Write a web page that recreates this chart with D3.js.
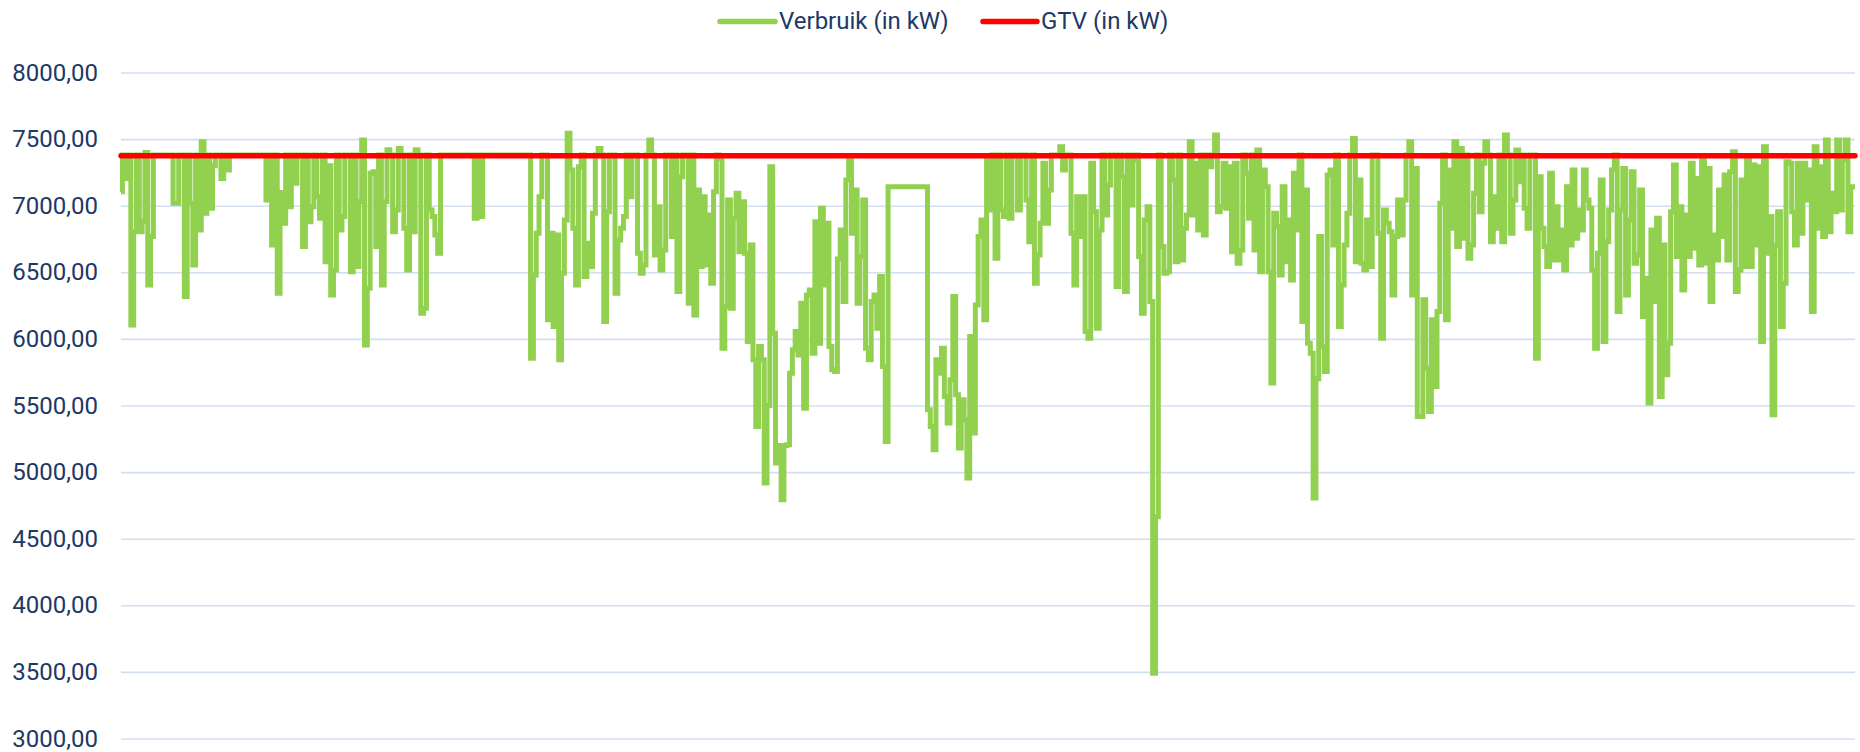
<!DOCTYPE html>
<html>
<head>
<meta charset="utf-8">
<script src="https://cdn.jsdelivr.net/npm/d3@7"></script>
<style>
  body { margin: 0; background: #fff; }
  text { font-family: Roboto, "Noto Sans", sans-serif; }
</style>
</head>
<body>
<div id="chart"></div>
<script>
// y-as ticks
var yTicks = [3000, 3500, 4000, 4500, 5000, 5500, 6000, 6500, 7000, 7500, 8000];

// legenda
var seriesNames = ["Verbruik (in kW)", "GTV (in kW)"];

// gecontracteerd transportvermogen
var gtvKW = 7375;

// verbruik (in kW), eerste helft
var verbruikDeel1 = [
  7105, 7380, 7205, 7380, 6105, 6805, 7380, 6805, 6880, 7400, 6405, 6768,
  7380, 7380, 7380, 7380, 7380, 7380, 7380,
  7018, 7018, 7380, 7380, 6318, 7380, 7018, 6555, 7380, 6818, 7480, 6943, 7380, 6980, 7300, 7380, 7380, 7205, 7380, 7268, 7380,
  7380, 7380, 7380, 7380, 7380, 7380, 7380, 7380, 7380, 7380, 7380, 7380,
  7043, 7380, 6705, 7380, 6343, 7100, 6868, 7380, 6993, 7380, 7168, 7380, 7380, 6693, 7380, 6880, 6993, 7380, 7068, 6905,
  7380, 6580, 7300, 6330, 6518, 7380, 6818, 6918, 7380, 7380, 6505, 7380, 6543, 7030, 7493, 5955, 6380, 7243, 7255, 6693,
  7380, 6405, 7030, 7420, 7380, 6805, 6968, 7430, 7380, 6830, 6518, 7380, 6805, 7420, 7380, 6193, 6230, 7380, 6968, 6918,
  6780, 6643, 7380, 7380,
  7380, 7380, 7380, 7380, 7380, 7380, 7380, 7380, 7380, 7380,
  6905, 7380, 6918, 7380, 7380, 7380,
  7380, 7380, 7380, 7380, 7380, 7380, 7380, 7380, 7380, 7380, 7380, 7380, 7380,
  7380, 5855, 6480, 6793, 7068, 7380, 7380, 6143, 6793, 6093, 6780, 5843, 6493, 6893, 7543, 7268, 6830, 6405, 7293, 7380,
  6468, 6718, 6543, 6943, 7380, 7430, 7380, 6130, 6955, 7380, 7380, 6343, 6743, 6830, 6918, 7380, 7068, 7380, 7380, 6643,
  6493, 6555, 7380, 7493, 7380, 6630, 6993, 6518, 6668, 7380, 7380, 6768, 7380, 6355, 7218, 7380, 7380, 6268, 7380, 6180,
  7118, 6543, 7068, 6555, 6930, 6418, 7105, 7380, 7355, 5930, 6243, 7043, 6230, 6905, 7093, 6655, 7030, 6643, 5980, 6705,
  5843, 5343, 5943, 5843, 4918, 5500, 7293, 6043, 5068, 5200, 4793, 5200, 5205, 5743, 5918, 6055, 5880, 6268, 5480, 6330,
  6368, 5893, 6880, 5968, 6980, 6405, 6868, 5943, 5768, 5755, 6600, 6818, 6280, 7193, 7343, 6793, 7118, 6268, 6618, 7043,
  5930, 5843, 6280, 6330, 6080, 6468, 5793, 5230,
  7143, 7143, 7143, 7143, 7143, 7143, 7143, 7143, 7143, 7143, 7143, 7143, 7143, 7143,
  5468, 5343, 5168, 5843, 5743, 5930, 5568, 5368, 5693, 6318, 5580, 5180, 5543, 5393, 4955, 6018, 5293, 6255, 6768, 6893,
  6143, 7343
];

// verbruik (in kW), tweede helft
var verbruikDeel2 = [
  6968, 7380, 6605, 7380, 6968, 6918, 7380, 6905, 7380, 7380, 6968, 7380, 7380, 7043, 6730, 7380, 6418, 6630, 6868, 7318,
  6868, 7118, 7380, 7380, 7380, 7443, 7268, 7380, 7380, 6793, 6405, 7068, 6768, 7068, 6055, 6005, 7318, 6955, 6080, 6818,
  7380, 6930, 7155, 7380, 7380, 6393, 7380, 7218, 6355, 7380, 7005, 7343, 7380, 6618, 6193, 6893, 6993, 6280, 3490, 4665,
  7380, 6693, 6493, 6505, 7380, 7193, 6580, 7380, 6593, 6830, 6930, 7480, 6930, 7318, 6818, 7380, 6780, 7380, 7293, 7380,
  7530, 6955, 6993, 7318, 6980, 7293, 6655, 7318, 6568, 6668, 7380, 7243, 6905, 7380, 6668, 7418, 6505, 7268, 7143, 6505,
  5668, 6943, 6843, 6480, 7143, 6580, 6893, 6443, 7243, 6818, 7380, 6130, 7118, 5968, 5893, 4806, 5700, 6768, 5943, 5755,
  7230, 7268, 6705, 7380, 6093, 6405, 6705, 6943, 7380, 7505, 6580, 7193, 6568, 6518, 6893, 6543, 7380, 7380, 6793, 6005,
  6968, 6868, 6805, 6330, 6768, 7043, 6780, 7043, 7380, 7480, 6330, 7280, 5418, 5418, 6293, 5780, 5455, 6143, 5643, 6205,
  7018, 7380, 6143, 7268, 6830, 7480, 6693, 7430, 6755, 7380, 6605, 6705, 7093, 7380, 6955, 7318, 7480, 7380, 6730, 7068,
  6830, 7380, 6730, 7530, 7380, 6793, 7043, 7418, 7180, 7380, 6980, 6830, 7380, 7380, 5855, 7218, 6830, 6693, 6543, 7243,
  6593, 6993, 6593, 6818, 6518, 7143, 6705, 7268, 6755, 6968, 6818, 7268, 7043, 6980, 6518, 5930, 6643, 7193, 5980, 6730,
  6968, 7268, 7380, 6205, 6968, 7280, 6330, 6893, 7255, 6568, 6630, 7118, 6168, 6455, 5518, 6818, 6280, 6905, 5568, 6705,
  5730, 5968, 6955, 7305, 6618, 6993, 6368, 6930, 6618, 7318, 6680, 7205, 6555, 7343, 6568, 7280, 6280, 6780, 6593, 7118,
  6768, 7230, 6593, 7255, 7405, 6355, 6518, 7193, 6543, 7343, 6543, 7305, 6705, 7293, 5980, 7443, 6643, 6918, 5430, 6700,
  6955, 6093, 6418, 7330, 7318, 6955, 6705, 7318, 6793, 7318, 7043, 7268, 6205, 7443, 6830, 7293, 6768, 7493, 6805, 7093,
  6955, 7493, 6968, 7343, 7493, 6805, 7143, 7143
];

var verbruik = verbruikDeel1.concat(verbruikDeel2);

var width = 1860, height = 752;
var plotLeft = 121, plotRight = 1855, plotTop = 72.5, plotBottom = 738.5;

var nl = d3.formatLocale({decimal: ",", thousands: ".", grouping: [3], currency: ["€", ""]});
var formatKW = nl.format(".2f");

var svg = d3.select("#chart")
  .append("svg")
  .attr("width", width)
  .attr("height", height);

var x = d3.scaleLinear()
  .domain([0, verbruik.length - 1])
  .range([plotLeft, plotRight]);

var y = d3.scaleLinear()
  .domain([3000, 8000])
  .range([plotBottom, plotTop]);

// gridlijnen + labels
var yAxis = svg.append("g")
  .attr("transform", "translate(" + plotLeft + ",0)")
  .call(d3.axisLeft(y)
    .tickValues(yTicks)
    .tickSize(-(plotRight - plotLeft))
    .tickPadding(23)
    .tickFormat(formatKW));

yAxis.select(".domain").remove();
yAxis.selectAll(".tick line")
  .attr("stroke", "#d3dff1")
  .attr("stroke-width", 1.6);
yAxis.selectAll(".tick text")
  .attr("fill", "#203864")
  .attr("font-size", 24)
  .attr("font-family", "Roboto, 'Noto Sans', sans-serif");

// verbruik lijn (dichte meetreeks, trapvormig getekend)
var line = d3.line()
  .curve(d3.curveStep)
  .x(function(d, i) { return x(i); })
  .y(function(d) { return y(d); });

svg.append("path")
  .datum(verbruik)
  .attr("fill", "none")
  .attr("stroke", "#92d050")
  .attr("stroke-width", 5)
  .attr("stroke-linejoin", "miter")
  .attr("d", line);

// GTV lijn
svg.append("line")
  .attr("x1", x(0))
  .attr("x2", x(verbruik.length - 1))
  .attr("y1", y(gtvKW))
  .attr("y2", y(gtvKW))
  .attr("stroke", "#ff0000")
  .attr("stroke-width", 5.5)
  .attr("stroke-linecap", "round");

// legenda
var legendItems = [
  {name: seriesNames[0], color: "#92d050", x1: 720, x2: 775},
  {name: seriesNames[1], color: "#ff0000", x1: 983, x2: 1037}
];

var legend = svg.append("g");
legend.selectAll("line")
  .data(legendItems)
  .join("line")
  .attr("x1", function(d) { return d.x1; })
  .attr("x2", function(d) { return d.x2; })
  .attr("y1", 21.5)
  .attr("y2", 21.5)
  .attr("stroke", function(d) { return d.color; })
  .attr("stroke-width", 5.5)
  .attr("stroke-linecap", "round");

legend.selectAll("text")
  .data(legendItems)
  .join("text")
  .attr("x", function(d) { return d.x2 + 4; })
  .attr("y", 21)
  .attr("dy", "0.35em")
  .attr("fill", "#203864")
  .attr("font-size", 24)
  .text(function(d) { return d.name; });
</script>
</body>
</html>
